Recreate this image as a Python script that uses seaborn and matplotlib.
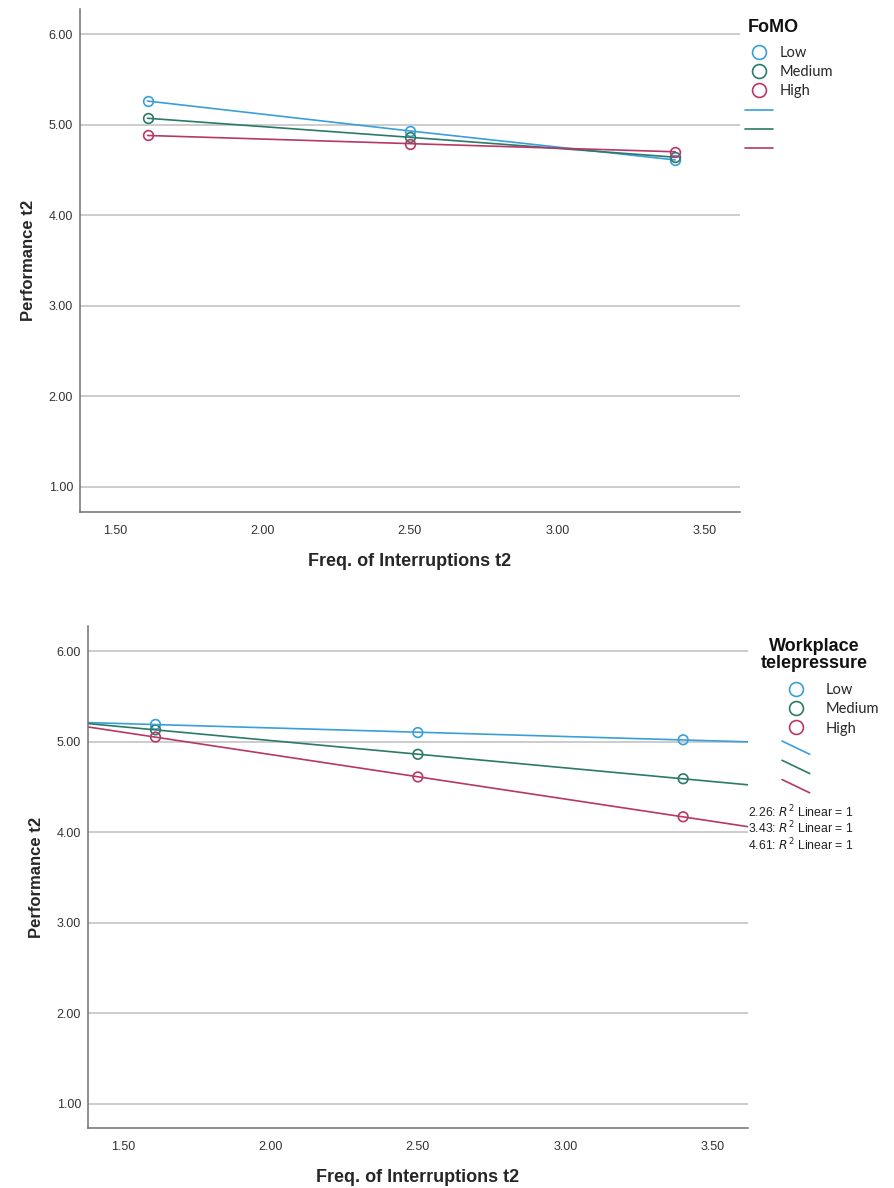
import matplotlib
matplotlib.use("Agg")
import matplotlib.pyplot as plt
import seaborn as sns
import pandas as pd
from matplotlib.lines import Line2D
from matplotlib.legend_handler import HandlerBase

# ---------------- data ----------------
x_levels = [1.61, 2.50, 3.40]
groups = ["Low", "Medium", "High"]

fomo_low = [5.26, 4.93, 4.61]
fomo_medium = [5.07, 4.86, 4.64]
fomo_high = [4.88, 4.79, 4.70]

tele_low = [5.19, 5.10, 5.02]
tele_medium = [5.13, 4.86, 4.59]
tele_high = [5.05, 4.61, 4.17]

tele_values = ["2.26", "3.43", "4.61"]

y_ticks = [1.0, 2.0, 3.0, 4.0, 5.0, 6.0]
x_ticks = [1.5, 2.0, 2.5, 3.0, 3.5]

colors = {"Low": "#3a9fd9", "Medium": "#2b7a68", "High": "#b83766"}

# ---------------- style ----------------
sns.set_theme(style="white")
plt.rcParams["font.family"] = ["Liberation Sans", "DejaVu Sans"]

fig = plt.figure(figsize=(8.95, 11.88), dpi=100)

ax1 = fig.add_axes([80 / 895, 1 - 512 / 1188, 660 / 895, 503 / 1188])
ax2 = fig.add_axes([88 / 895, 1 - 1128 / 1188, 660 / 895, 502 / 1188])

def style_axes(ax, ylim_lo, xlim):
    ax.set_xlim(*xlim)
    ax.set_ylim(ylim_lo, 6.276)
    ax.set_yticks(y_ticks)
    ax.set_yticklabels([f"{v:.2f}" for v in y_ticks])
    ax.set_xticks(x_ticks)
    ax.set_xticklabels([f"{v:.2f}" for v in x_ticks])
    ax.yaxis.grid(True, color="#c4c4c4", linewidth=1.2)
    ax.xaxis.grid(False)
    ax.set_axisbelow(True)
    for s in ["top", "right"]:
        ax.spines[s].set_visible(False)
    for s in ["left", "bottom"]:
        ax.spines[s].set_color("#707070")
        ax.spines[s].set_linewidth(1.1)
    ax.tick_params(axis="y", direction="in", length=3, width=0.8, color="#909090",
                   pad=5, labelsize=9, labelcolor="#333333")
    ax.tick_params(axis="x", length=0, pad=9, labelsize=9, labelcolor="#333333")
    ax.set_ylabel("Performance t2", fontsize=12, fontweight="bold", labelpad=9)
    ax.set_xlabel("Freq. of Interruptions t2", fontsize=13, fontweight="bold", labelpad=12)

# ---------------- top plot ----------------
df_top = pd.DataFrame({
    "x": x_levels * 3,
    "y": fomo_low + fomo_medium + fomo_high,
    "FoMO": [g for g in groups for _ in x_levels],
})
style_axes(ax1, 0.724, (1.381, 3.62))
sns.lineplot(data=df_top, x="x", y="y", hue="FoMO", palette=colors, hue_order=groups,
             marker="o", markersize=7, markerfacecolor="none", linewidth=1.2,
             legend=False, ax=ax1)
for ln in ax1.lines:
    ln.set_markeredgecolor(ln.get_color())
    ln.set_markeredgewidth(1.2)
style_axes(ax1, 0.724, (1.381, 3.62))

# ---------------- bottom plot ----------------
style_axes(ax2, 0.735, (1.381, 3.62))
for g, vals in zip(groups, [tele_low, tele_medium, tele_high]):
    d = pd.DataFrame({"x": x_levels, "y": vals})
    sns.regplot(data=d, x="x", y="y", ci=None, truncate=False, ax=ax2,
                color=colors[g],
                scatter_kws={"s": 48, "facecolors": "none", "edgecolors": colors[g],
                             "linewidths": 1.2, "alpha": 1},
                line_kws={"linewidth": 1.2})
style_axes(ax2, 0.735, (1.381, 3.62))

# ---------------- legends ----------------
class DiagHandler(HandlerBase):
    def create_artists(self, legend, orig_handle, xdescent, ydescent, width, height,
                       fontsize, trans):
        l = Line2D([-xdescent, -xdescent + width],
                   [-ydescent + height * 1.05, -ydescent - height * 0.25],
                   color=orig_handle.get_color(), linewidth=1.2, transform=trans)
        return [l]

leg_font = {"family": ["Lato", "DejaVu Sans"], "size": 10.5}

def marker_handles():
    return [Line2D([], [], linestyle="none", marker="o", markersize=10,
                   markerfacecolor="none", markeredgecolor=colors[g],
                   markeredgewidth=1.2) for g in groups]

def line_handles():
    return [Line2D([], [], color=colors[g], linewidth=1.2) for g in groups]

# top legend
h1 = marker_handles() + line_handles()
l1 = groups + ["", "", ""]
fig.legend(h1, l1, loc="upper left", bbox_to_anchor=(745 / 895, 1 - 46 / 1188),
           bbox_transform=fig.transFigure, frameon=False, borderpad=0, borderaxespad=0,
           handlelength=1.9, handletextpad=0.45, labelspacing=0.36, prop=leg_font)
fig.text(748 / 895, 1 - 27 / 1188, "FoMO", fontsize=13, fontweight="bold",
         ha="left", va="center", color="#111111")

# bottom legend
h2 = marker_handles() + line_handles()
l2 = groups + ["", "", ""]
hm = {h: DiagHandler() for h in h2[3:]}
fig.legend(h2, l2, loc="upper left", bbox_to_anchor=(782 / 895, 1 - 683 / 1188),
           bbox_transform=fig.transFigure, frameon=False, borderpad=0, borderaxespad=0,
           handlelength=1.9, handletextpad=1.1, labelspacing=0.36, prop=leg_font,
           handler_map=hm)
fig.text(814 / 895, 1 - 655 / 1188, "Workplace\ntelepressure", fontsize=13,
         fontweight="bold", ha="center", va="center", linespacing=0.95, color="#111111")

for i, v in enumerate(tele_values):
    fig.text(748 / 895, 1 - (812 + 16.5 * i) / 1188, rf"{v}: $R^2$ Linear = 1",
             fontsize=8.8, ha="left", va="center", color="#222222")

fig.savefig("out.png", dpi=100)
